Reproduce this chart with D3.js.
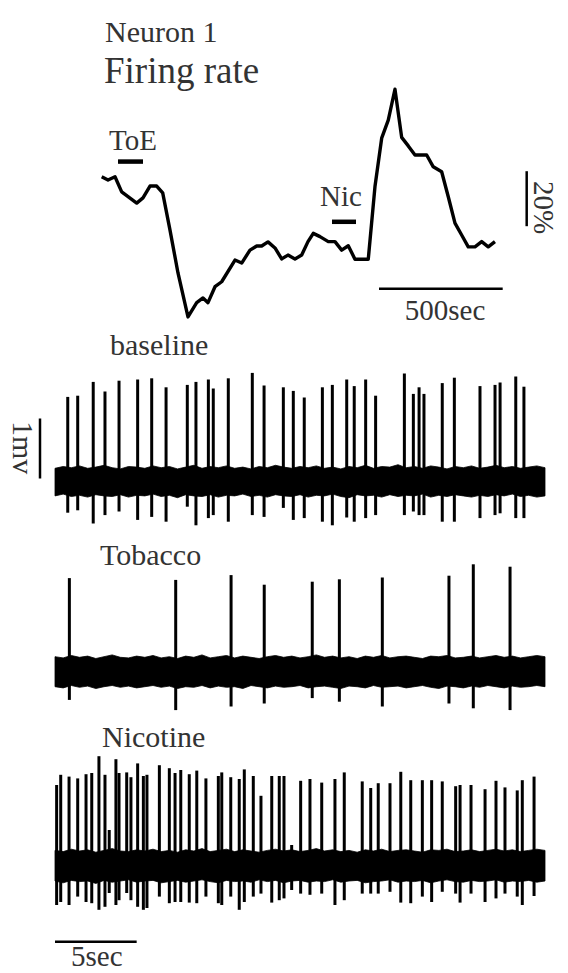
<!DOCTYPE html>
<html><head><meta charset="utf-8">
<script src="https://cdn.jsdelivr.net/npm/d3@7"></script>
<style>
body{margin:0;background:#fff}
svg{display:block}
text{font-family:"Liberation Serif","Times New Roman","DejaVu Serif",serif;fill:#333}
</style></head>
<body><svg id="c" width="568" height="973"></svg>
<script>
// ---------- DATA ----------
// Firing rate (% of baseline) vs time (sec)
const rateTime = [0,25.5,53.8,80.8,141.5,166.9,195.2,222.3,246.6,276.1,308.4,348.8,384,409.5,429.7,458,485,538.8,565.9,599.4,626.5,646.7,672.2,700.5,727.6,753,781.3,808.4,833.9,855.3,882.4,915.9,943,970.1,996.8,1023.8,1077.6,1104.7,1131.8,1158.4,1185.5,1212.6,1239.3,1266.4,1313.7,1340.3,1374.3,1401,1428.1,1455.1,1481.8,1508.9,1536,1562.6,1589.7];
const rateValue = [100,98.8,100,94.5,90.4,92.3,96.6,96.6,94.1,80.6,65,49,54.2,55.9,54.2,60,61.8,69.7,68.6,73.3,74.8,74.8,76.3,74.1,70.1,71.5,70.1,71.5,76.4,79.4,78.2,76.4,76.4,73.3,74.9,70,70,96.4,114,120.6,131.8,114.3,111.2,107.9,107.9,103.6,101.8,92.7,83.1,78.8,74.5,74.5,76.4,74.5,76.4];
// application periods (sec)
const toeApplication = [66, 167];
const nicApplication = [931, 1028];

// Trace spikes: time (sec), peak (mV), trough (mV)
const baselineSpikeTime = [0.78,1.39,2.34,3.06,3.92,5.06,5.92,6.80,8.10,8.63,9.39,9.69,10.61,12.08,12.80,13.98,14.59,15.26,16.37,16.98,17.86,18.32,19.02,19.63,21.39,21.94,22.29,22.59,23.71,24.45,26.02,26.94,27.25,28.21,28.71];
const baselineSpikePeak = [1.41,1.43,1.66,1.50,1.68,1.70,1.72,1.57,1.61,1.66,1.70,1.55,1.72,1.81,1.60,1.57,1.51,1.40,1.57,1.61,1.70,1.59,1.70,1.43,1.80,1.46,1.57,1.46,1.64,1.73,1.59,1.61,1.65,1.75,1.58];
const baselineSpikeTrough = [-0.52,-0.48,-0.70,-0.56,-0.50,-0.64,-0.59,-0.67,-0.42,-0.73,-0.61,-0.56,-0.67,-0.56,-0.59,-0.44,-0.64,-0.61,-0.67,-0.73,-0.60,-0.67,-0.61,-0.56,-0.56,-0.50,-0.56,-0.56,-0.67,-0.67,-0.61,-0.56,-0.53,-0.61,-0.61];

const tobaccoSpikeTime = [0.88,7.39,10.78,12.81,15.75,17.41,20.04,24.12,25.61,27.86];
const tobaccoSpikePeak = [1.56,1.53,1.61,1.45,1.50,1.54,1.57,1.60,1.79,1.75];
const tobaccoSpikeTrough = [-0.47,-0.64,-0.58,-0.53,-0.44,-0.50,-0.58,-0.53,-0.61,-0.64];

const nicotineSpikeTime = [0.10,0.35,0.86,1.39,1.90,2.25,2.69,3.06,3.32,3.73,3.92,4.39,4.65,5.06,5.41,5.63,6.39,7.00,7.35,7.70,8.22,8.68,9.24,10.00,10.21,10.76,11.28,11.59,12.14,12.61,13.27,13.73,14.02,14.49,15.04,15.61,16.33,17.14,17.71,18.81,19.33,19.79,20.51,21.17,21.78,22.49,23.06,23.71,24.53,24.80,25.47,26.33,27.00,27.55,28.30,28.61,29.33];
const nicotineSpikePeak = [1.35,1.52,1.49,1.46,1.53,1.55,1.83,1.52,0.60,1.78,1.55,1.56,1.48,1.71,1.50,1.52,1.68,1.63,1.55,1.60,1.53,1.59,1.46,1.50,1.56,1.48,1.45,1.61,1.50,1.17,1.50,1.50,1.50,0.35,1.42,1.45,1.39,1.45,1.56,1.41,1.30,1.38,1.38,1.57,1.43,1.43,1.43,1.41,1.33,1.35,1.35,1.28,1.42,1.31,1.26,1.43,1.49];
const nicotineSpikeTrough = [-0.65,-0.60,-0.65,-0.51,-0.60,-0.62,-0.73,-0.68,-0.45,-0.65,-0.57,-0.45,-0.57,-0.68,-0.73,-0.70,-0.51,-0.62,-0.60,-0.60,-0.61,-0.62,-0.51,-0.62,-0.65,-0.51,-0.73,-0.60,-0.51,-0.46,-0.61,-0.57,-0.54,-0.40,-0.46,-0.48,-0.46,-0.65,-0.57,-0.46,-0.46,-0.46,-0.43,-0.61,-0.62,-0.51,-0.60,-0.43,-0.46,-0.61,-0.46,-0.60,-0.54,-0.46,-0.51,-0.65,-0.50];

// Noise-band envelope (mV), one value every 0.5 sec over 0..30 sec
const baselineBandTop = [0.22,0.25,0.23,0.26,0.22,0.24,0.27,0.23,0.21,0.25,0.24,0.22,0.26,0.23,0.25,0.21,0.24,0.27,0.22,0.25,0.23,0.26,0.22,0.24,0.21,0.25,0.23,0.27,0.24,0.22,0.25,0.23,0.26,0.22,0.24,0.21,0.25,0.23,0.27,0.22,0.25,0.24,0.28,0.23,0.25,0.22,0.26,0.24,0.21,0.25,0.23,0.26,0.22,0.24,0.27,0.23,0.25,0.22,0.24,0.26,0.23];
const baselineBandBot = [-0.24,-0.21,-0.25,-0.23,-0.26,-0.22,-0.24,-0.25,-0.22,-0.26,-0.23,-0.24,-0.21,-0.25,-0.23,-0.27,-0.22,-0.24,-0.25,-0.22,-0.26,-0.23,-0.24,-0.21,-0.25,-0.23,-0.26,-0.22,-0.24,-0.25,-0.22,-0.26,-0.23,-0.24,-0.21,-0.25,-0.27,-0.22,-0.24,-0.23,-0.26,-0.22,-0.25,-0.23,-0.24,-0.21,-0.26,-0.23,-0.25,-0.22,-0.24,-0.26,-0.23,-0.25,-0.22,-0.24,-0.21,-0.25,-0.23,-0.26,-0.24];
const tobaccoBandTop = [0.25,0.23,0.27,0.24,0.26,0.22,0.25,0.28,0.24,0.23,0.26,0.24,0.27,0.23,0.25,0.22,0.26,0.24,0.28,0.23,0.25,0.27,0.23,0.26,0.24,0.22,0.25,0.27,0.24,0.26,0.23,0.25,0.28,0.24,0.26,0.23,0.25,0.22,0.26,0.24,0.27,0.23,0.25,0.26,0.24,0.22,0.26,0.25,0.27,0.23,0.24,0.26,0.23,0.25,0.27,0.24,0.26,0.23,0.25,0.27,0.25];
const tobaccoBandBot = [-0.25,-0.27,-0.23,-0.26,-0.24,-0.28,-0.25,-0.23,-0.26,-0.24,-0.27,-0.25,-0.23,-0.26,-0.24,-0.28,-0.25,-0.26,-0.23,-0.27,-0.24,-0.26,-0.25,-0.28,-0.23,-0.25,-0.27,-0.24,-0.26,-0.25,-0.23,-0.27,-0.25,-0.24,-0.26,-0.28,-0.24,-0.25,-0.27,-0.23,-0.26,-0.25,-0.24,-0.27,-0.25,-0.23,-0.26,-0.28,-0.24,-0.25,-0.27,-0.24,-0.26,-0.23,-0.25,-0.27,-0.24,-0.26,-0.25,-0.23,-0.25];
const nicotineBandTop = [0.26,0.24,0.28,0.25,0.27,0.23,0.26,0.29,0.25,0.24,0.27,0.25,0.28,0.24,0.26,0.23,0.27,0.25,0.29,0.24,0.26,0.28,0.24,0.27,0.25,0.23,0.26,0.28,0.25,0.27,0.24,0.26,0.29,0.25,0.27,0.24,0.26,0.23,0.27,0.25,0.28,0.24,0.26,0.27,0.25,0.23,0.27,0.26,0.28,0.24,0.25,0.27,0.24,0.26,0.28,0.25,0.27,0.24,0.26,0.28,0.26];
const nicotineBandBot = [-0.25,-0.28,-0.24,-0.26,-0.25,-0.29,-0.24,-0.27,-0.25,-0.23,-0.27,-0.25,-0.24,-0.28,-0.26,-0.24,-0.27,-0.25,-0.23,-0.26,-0.28,-0.24,-0.26,-0.25,-0.27,-0.23,-0.26,-0.24,-0.28,-0.25,-0.24,-0.27,-0.25,-0.26,-0.23,-0.27,-0.25,-0.24,-0.28,-0.26,-0.25,-0.23,-0.27,-0.25,-0.26,-0.24,-0.28,-0.25,-0.23,-0.26,-0.27,-0.24,-0.26,-0.25,-0.23,-0.27,-0.25,-0.26,-0.24,-0.27,-0.25];

// Labels / scale-bar values
const titleText = "Neuron 1";
const rateTitle = "Firing rate";
const rateScaleSec = 500;
const rateScalePct = 20;
const traceScaleMv = 1;
const traceScaleSec = 5;

// ---------- LAYOUT ----------
const svg = d3.select('#c');
const FONT = 30;

const xRate = d3.scaleLinear().domain([0, 1600]).range([101.7, 497.5]);
const yRate = d3.scaleLinear().domain([100, 120]).range([176.7, 121.7]);

function txt(x, y, s, size, anchor, rot) {
  const t = svg.append('text').attr('font-size', size).attr('text-anchor', anchor || 'start').text(s);
  if (rot) t.attr('transform', `translate(${x},${y}) rotate(${rot})`);
  else t.attr('x', x).attr('y', y);
  return t;
}
function seg(x1, y1, x2, y2, w) {
  svg.append('line').attr('x1', x1).attr('y1', y1).attr('x2', x2).attr('y2', y2)
    .attr('stroke', '#000').attr('stroke-width', w);
}

txt(105, 42, titleText, FONT);
txt(104, 83, rateTitle, 37);

// firing-rate line
svg.append('path')
  .datum(d3.zip(rateTime, rateValue))
  .attr('d', d3.line().x(d => xRate(d[0])).y(d => yRate(d[1])))
  .attr('fill', 'none').attr('stroke', '#000').attr('stroke-width', 3.4)
  .attr('stroke-linejoin', 'round');

// application bars
seg(xRate(toeApplication[0]), yRate(105.5), xRate(toeApplication[1]), yRate(105.5), 4.5);
txt(109, 150, "ToE", 29);
seg(xRate(nicApplication[0]), yRate(83.6), xRate(nicApplication[1]), yRate(83.6), 4.5);
txt(320, 206, "Nic", 29);

// rate scale bars
seg(xRate(1121), yRate(59.3), xRate(1121 + rateScaleSec), yRate(59.3), 2.5);
txt(445, 320, rateScaleSec + "sec", 29, 'middle');
seg(xRate(1718), yRate(82), xRate(1718), yRate(82 + rateScalePct), 2.5);
txt(534, 181, rateScalePct + "%", 29, 'start', 90);

// ---------- TRACES ----------
const xTrace = d3.scaleLinear().domain([0, 30]).range([55, 545]);
const traces = [
  {label: "baseline", lx: 110, ly: 355, center: 481.5, t: baselineSpikeTime, p: baselineSpikePeak, q: baselineSpikeTrough, top: baselineBandTop, bot: baselineBandBot},
  {label: "Tobacco", lx: 100, ly: 565, center: 671.7, t: tobaccoSpikeTime, p: tobaccoSpikePeak, q: tobaccoSpikeTrough, top: tobaccoBandTop, bot: tobaccoBandBot},
  {label: "Nicotine", lx: 102, ly: 747, center: 866, t: nicotineSpikeTime, p: nicotineSpikePeak, q: nicotineSpikeTrough, top: nicotineBandTop, bot: nicotineBandBot}
];

traces.forEach(tr => {
  const y = d3.scaleLinear().domain([0, 1]).range([tr.center, tr.center - 60]);
  txt(tr.lx, tr.ly, tr.label, FONT);
  svg.append('path')
    .datum(d3.zip(tr.top, tr.bot))
    .attr('d', d3.area().x((d, i) => xTrace(i * 0.5)).y0(d => y(d[1])).y1(d => y(d[0])))
    .attr('fill', '#000').attr('stroke', '#000').attr('stroke-width', 0.8);
  svg.append('g').selectAll('line')
    .data(d3.zip(tr.t, tr.p, tr.q))
    .join('line')
    .attr('x1', d => xTrace(d[0])).attr('x2', d => xTrace(d[0]))
    .attr('y1', d => y(d[1])).attr('y2', d => y(d[2]))
    .attr('stroke', '#000').attr('stroke-width', 3);
  tr.y = y;
});

// trace scale bars
const yB = traces[0].y;
seg(40, yB(0.05), 40, yB(0.05 + traceScaleMv), 2.5);
txt(13, 421, traceScaleMv + "mv", FONT, 'start', 90);
seg(xTrace(0), 941.7, xTrace(traceScaleSec), 941.7, 2.5);
txt(71, 966, traceScaleSec + "sec", 29);
</script>
</body></html>
